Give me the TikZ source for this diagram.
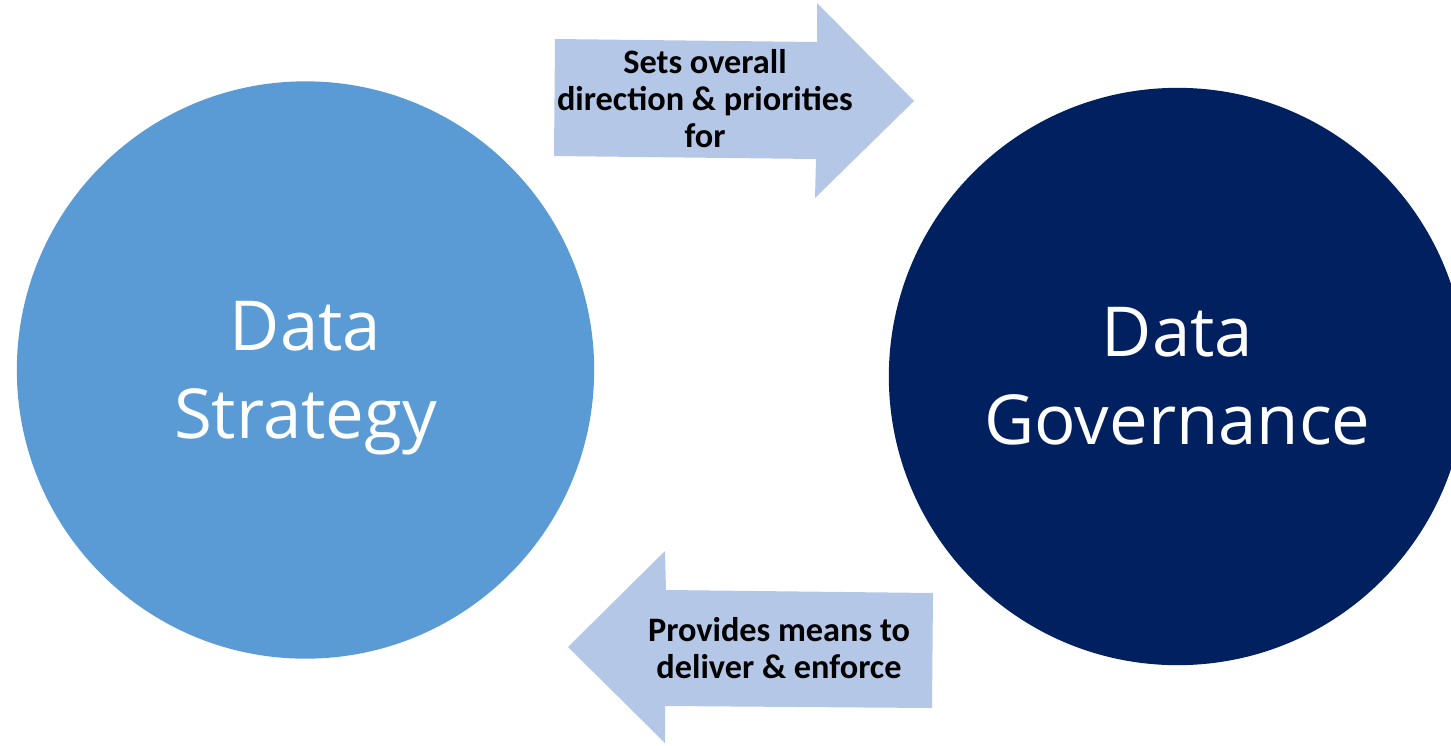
\documentclass[tikz,border=0pt]{standalone}
\usepackage{fontspec}
\setmainfont{Carlito}
\newfontfamily\circlefont{Open Sans}
\definecolor{stratblue}{HTML}{5B9BD5}
\definecolor{govblue}{HTML}{002060}
\definecolor{arrowblue}{HTML}{B4C7E7}
\tikzset{
  bubble/.style={circle, minimum size=5.77cm, inner sep=0pt, text=white, align=center,
    font=\circlefont\fontsize{19.6}{25}\selectfont},
  arrowtext/.style={align=center, font=\bfseries\fontsize{9.75}{10.5}\selectfont}
}
\begin{document}
\begin{tikzpicture}[x=0.01cm, y=-0.01cm]
\useasboundingbox (0,0) rectangle (1451,745);
\clip (0,0) rectangle (1451,745);
% the two circles
\node (strategy) [bubble, fill=stratblue, text depth=0pt] at (305.5,370) {Data\\Strategy};
\node (governance) [bubble, fill=govblue] at (1177.5,376.5) {Data\\Governance};
% block arrows between them
\fill[arrowblue] (555,39) -- (817,42) -- (817,3) -- (914,101) -- (815,198) -- (816,159) -- (554,156) -- cycle;
\fill[arrowblue] (568,647) -- (665,551) -- (666,590) -- (933,593) -- (932,708) -- (665,706) -- (665,743) -- cycle;
\node (settext) [arrowtext] at (705,99) {Sets overall\\direc\kern0pt tion \& priori\kern0pt ties\\for};
\node (meanstext) [arrowtext] at (779,648) {Provides means to\\deliver \& enforce};
\end{tikzpicture}
\end{document}
